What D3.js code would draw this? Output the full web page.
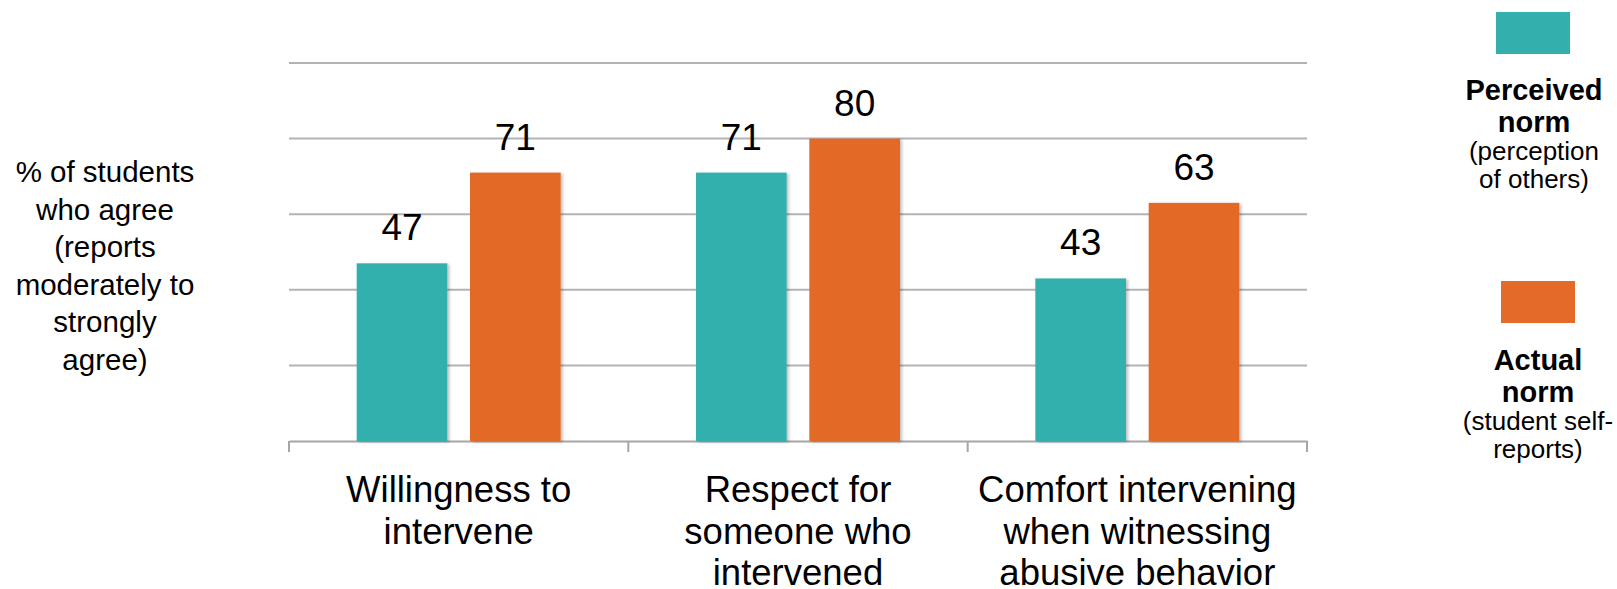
<!DOCTYPE html>
<html><head><meta charset="utf-8">
<script src="https://cdn.jsdelivr.net/npm/d3@7"></script>
<style>body{margin:0;background:#fff;font-family:"Liberation Sans",Arial,sans-serif;}</style>
</head><body><svg id="c" width="1617" height="589"></svg>
<script>
const categories = [["Willingness to","intervene"],["Respect for","someone who","intervened"],["Comfort intervening","when witnessing","abusive behavior"]];
const catKeys = ["Willingness","Respect","Comfort"];
const perceived = [47, 71, 43];
const actual = [71, 80, 63];
const seriesNames = ["Perceived","Actual"];
const yTicks = [0,20,40,60,80,100];
const colors = {Perceived:"#33b0ad", Actual:"#e36a28"};

const svg = d3.select("#c");
const defs = svg.append("defs");
const f = defs.append("filter").attr("id","sh").attr("x","-10%").attr("y","-10%").attr("width","130%").attr("height","130%");
f.append("feDropShadow").attr("dx",2).attr("dy",1).attr("stdDeviation",1.5).attr("flood-color","#000").attr("flood-opacity",0.25);

const x0 = d3.scaleBand().domain(catKeys).range([289,1307]).paddingInner(0).paddingOuter(0);
const x1 = d3.scaleBand().domain(seriesNames).range([x0.bandwidth()/2-102, x0.bandwidth()/2+102]).paddingInner(0.2).paddingOuter(0);
const y = d3.scaleLinear().domain([0,100]).range([441,63]);

// gridlines
svg.append("g").selectAll("line").data(yTicks.slice(1)).join("line")
  .attr("x1",289).attr("x2",1307).attr("y1",d=>y(d)).attr("y2",d=>y(d))
  .attr("stroke","#b3b3b3").attr("stroke-width",2);

// axis
const ax = svg.append("g").attr("transform","translate(0,441)").call(d3.axisBottom(x0).tickSize(0).tickFormat(""));
ax.select(".domain").attr("stroke","#a6a6a6").attr("stroke-width",2);
svg.append("g").selectAll("line").data([0,1,2,3]).join("line")
  .attr("x1",i=>289+i*x0.step()).attr("x2",i=>289+i*x0.step()).attr("y1",441).attr("y2",452)
  .attr("stroke","#a6a6a6").attr("stroke-width",2);

const data = catKeys.map((k,i)=>({k, vals:[{s:"Perceived",v:perceived[i]},{s:"Actual",v:actual[i]}]}));
const g = svg.append("g").selectAll("g").data(data).join("g").attr("transform",d=>`translate(${x0(d.k)},0)`);
g.selectAll("rect").data(d=>d.vals).join("rect")
  .attr("x",d=>x1(d.s)).attr("width",x1.bandwidth())
  .attr("y",d=>y(d.v)).attr("height",d=>y(0)-y(d.v))
  .attr("fill",d=>colors[d.s]).attr("filter","url(#sh)");
g.selectAll("text").data(d=>d.vals).join("text")
  .attr("x",d=>x1(d.s)+x1.bandwidth()/2).attr("y",d=>y(d.v)-23)
  .attr("text-anchor","middle").attr("font-size",37).attr("fill","#000").text(d=>d.v);

// category labels
categories.forEach((lines,i)=>{
  const t = svg.append("text").attr("text-anchor","middle").attr("font-size",36.5).attr("fill","#000");
  lines.forEach((l,j)=>t.append("tspan").attr("x",x0(catKeys[i])+x0.bandwidth()/2).attr("y",502+j*41.5).text(l));
});

// y label
const yl = ["% of students","who agree","(reports","moderately to","strongly","agree)"];
const yt = svg.append("text").attr("text-anchor","middle").attr("font-size",29.5).attr("fill","#000");
yl.forEach((l,j)=>yt.append("tspan").attr("x",105).attr("y",182+j*37.5).text(l));

// legend
const legend = [
  {s:"Perceived", rx:1496, ry:12, cx:1534, bold:["Perceived","norm"], norm:["(perception","of others)"], by:100},
  {s:"Actual", rx:1501, ry:281, cx:1538, bold:["Actual","norm"], norm:["(student self-","reports)"], by:370}
];
legend.forEach(L=>{
  svg.append("rect").attr("x",L.rx).attr("y",L.ry).attr("width",74).attr("height",42).attr("fill",colors[L.s]);
  const t = svg.append("text").attr("text-anchor","middle").attr("fill","#000");
  L.bold.forEach((l,j)=>t.append("tspan").attr("x",L.cx).attr("y",L.by+j*32).attr("font-size",29).attr("font-weight","bold").text(l));
  L.norm.forEach((l,j)=>t.append("tspan").attr("x",L.cx).attr("y",L.by+60+j*27.5).attr("font-size",26).text(l));
});
</script></body></html>
